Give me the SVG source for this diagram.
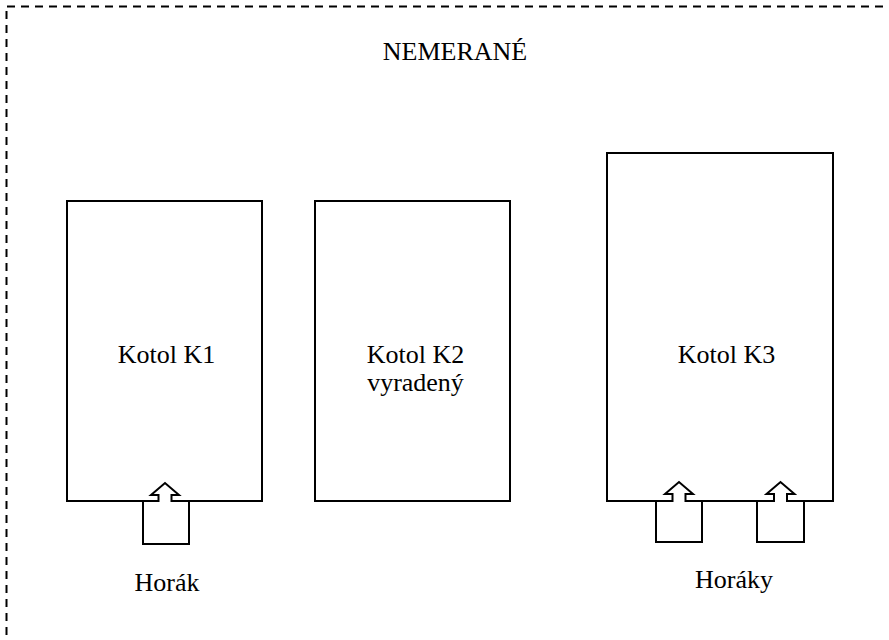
<svg xmlns="http://www.w3.org/2000/svg" width="889" height="640" viewBox="0 0 889 640">
<style>
.b{fill:none;stroke:#000;stroke-width:2}
.br{fill:#fff;stroke:#000;stroke-width:2;stroke-linejoin:miter}
.dash{fill:none;stroke:#000;stroke-width:2;stroke-dasharray:8 6}
text{font-family:"Liberation Serif","Times New Roman",serif;font-size:26px;fill:#000;text-anchor:middle}
</style>
<rect width="889" height="640" fill="#fff"/>
<g id="border">
<line class="dash" x1="7" y1="6.5" x2="889" y2="6.5"/>
<line class="dash" x1="6.5" y1="11" x2="6.5" y2="640"/>
</g>
<text x="455" y="60">NEMERANÉ</text>
<g id="k1">
<rect class="b" x="67" y="201" width="195" height="300"/>
<text x="166.5" y="363">Kotol K1</text>
</g>
<g id="k2">
<rect class="b" x="315" y="201" width="195" height="300"/>
<text x="415.5" y="363">Kotol K2</text>
<text x="415.5" y="391">vyradený</text>
</g>
<g id="k3">
<rect class="b" x="607" y="153" width="226" height="348"/>
<text x="726.5" y="363">Kotol K3</text>
</g>
<g id="connectors">
<path id="burner1" class="br" d="M143,501 H158.5 V495 H151 L165,483 L179,495 H171.5 V501 H189 V544 H143 Z"/>
<path id="burner2" class="br" d="M656,501 H672.5 V494 H665 L679,482 L693,494 H685.5 V501 H702 V542 H656 Z"/>
<path id="burner3" class="br" d="M757,501 H774 V494 H766.5 L780.5,482 L794.5,494 H787 V501 H804 V542 H757 Z"/>
</g>
<text x="167" y="591">Horák</text>
<text x="734" y="588">Horáky</text>
</svg>
